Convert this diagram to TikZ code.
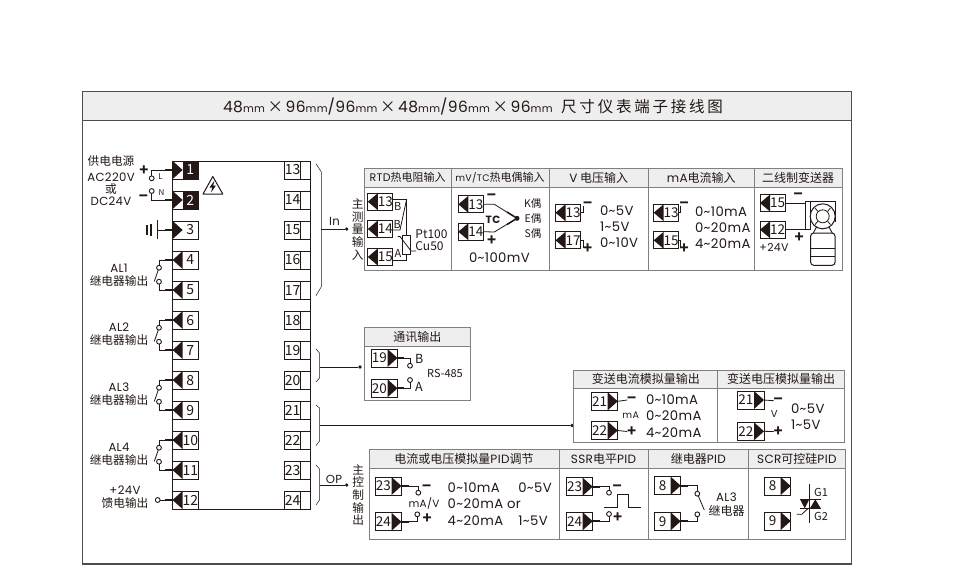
\documentclass[tikz,border=0pt]{standalone}
\usepackage{fontspec}
\setmainfont{Noto Sans CJK SC}
\newfontfamily\lat{Poppins}[LetterSpace=3]
\newfontfamily\wide{Noto Sans CJK SC}[LetterSpace=18]
\usetikzlibrary{positioning}
\definecolor{ink}{HTML}{231815}
\definecolor{frameline}{HTML}{4D4D4D}
\definecolor{panelline}{HTML}{808080}
\definecolor{headfill}{HTML}{EEEEEE}
\newcommand{\tl}{\textasciitilde}
\newcommand{\mmu}{{\fontsize{10.5}{12}\selectfont mm}}
\tikzset{
  every node/.style={text=ink, inner sep=0pt, outer sep=0pt, font=\fontsize{11.7}{12.6}\selectfont},
  wire/.style={ink, line width=.8pt},
  stub/.style={ink, line width=1.9pt},
  thinline/.style={ink, line width=.5pt},
  contact/.style={circle, draw=ink, line width=.9pt, fill=white, minimum size=4.8pt},
  dot/.style={circle, fill=ink, minimum size=3.6pt},
  plus/.style={font=\fontsize{15}{15}\bfseries\selectfont},
  head/.style={draw=panelline, line width=1pt, fill=headfill, minimum height=19pt, font=\fontsize{12}{12}\selectfont},
  pbody/.style={draw=panelline, line width=1pt, fill=white},
  vals/.style={anchor=west, font=\fontsize{13.2}{14}\lat\selectfont},
  port/.style={draw=ink, line width=.7pt, fill=white, minimum width=24pt, minimum height=17pt, font=\fontsize{13.5}{13.5}\selectfont},
  big/.style={minimum width=25.3pt, minimum height=18pt, font=\fontsize{14}{14}\selectfont},
  tipin/.style={execute at begin node={\hspace*{10pt}}, path picture={\fill[ink] ([xshift=10pt]path picture bounding box.north west) -- (path picture bounding box.west) -- ([xshift=10pt]path picture bounding box.south west) -- cycle;}},
  tipout/.style={execute at begin node={\hspace*{10pt}}, path picture={\fill[ink] (path picture bounding box.north west) -- ([xshift=10pt]path picture bounding box.west) -- (path picture bounding box.south west) -- cycle;}},
  tipend/.style={minimum width=26.4pt, minimum height=18pt, execute at end node={\hspace*{10pt}}, path picture={\fill[ink] ([xshift=-10pt]path picture bounding box.north east) -- (path picture bounding box.east) -- ([xshift=-10pt]path picture bounding box.south east) -- cycle;}},
  power/.style={tipout, text=white, path picture={\fill[ink] ([xshift=10pt]path picture bounding box.north west) rectangle (path picture bounding box.south east); \fill[ink] (path picture bounding box.north west) -- ([xshift=10pt]path picture bounding box.west) -- (path picture bounding box.south west) -- cycle;}},
  rport/.style={draw=ink, line width=.7pt, fill=white, minimum width=25.6pt, minimum height=18pt, font=\fontsize{14}{14}\selectfont, execute at end node={\hspace*{9.6pt}}, path picture={\draw[ink, line width=.7pt] ([xshift=-9.6pt]path picture bounding box.north east) -- ([xshift=-9.6pt]path picture bounding box.south east);}},
}
\begin{document}
\begin{tikzpicture}[x=1pt, y=-1pt]
\useasboundingbox (0,0) rectangle (960,582);
\node[draw=frameline, line width=1.2pt, fill=white, minimum width=769.4pt, minimum height=472pt] (frame) at (467,328) {};
\node[draw=frameline, line width=1.2pt, fill=headfill, minimum width=769.4pt, minimum height=28.3pt] (titlebar) at (467,106) {};
\node[font=\fontsize{15.5}{16}\selectfont] (title) at (473,107) {{\lat 48\mmu}\,×\,{\lat 96\mmu/96\mmu}\,×\,{\lat 48\mmu/96\mmu}\,×\,{\lat 96\mmu}\hspace{.55em}{\wide 尺寸仪表端子接线图}};
\node[draw=ink, line width=.9pt, fill=white, minimum width=137.6pt, minimum height=348pt] (unit) at (241.5,335) {};

\node[port, big, power] (t1) at (185.3,170) {1};
\node[port, big, power] (t2) at (185.3,200) {2};
\node[port, big, tipout] (t3) at (185.3,230) {3};
\node[port, big, tipin] (t4) at (185.3,260) {4};
\node[port, big, tipin] (t5) at (185.3,290) {5};
\node[port, big, tipin] (t6) at (185.3,320) {6};
\node[port, big, tipin] (t7) at (185.3,350) {7};
\node[port, big, tipin] (t8) at (185.3,380) {8};
\node[port, big, tipin] (t9) at (185.3,410) {9};
\node[port, big, tipin] (t10) at (185.3,440) {10};
\node[port, big, tipin] (t11) at (185.3,470) {11};
\node[port, big, tipin] (t12) at (185.3,500) {12};
\node[rport] (t13) at (297.5,170) {13};
\node[rport] (t14) at (297.5,200) {14};
\node[rport] (t15) at (297.5,230) {15};
\node[rport] (t16) at (297.5,260) {16};
\node[rport] (t17) at (297.5,290) {17};
\node[rport] (t18) at (297.5,320) {18};
\node[rport] (t19) at (297.5,350) {19};
\node[rport] (t20) at (297.5,380) {20};
\node[rport] (t21) at (297.5,410) {21};
\node[rport] (t22) at (297.5,440) {22};
\node[rport] (t23) at (297.5,470) {23};
\node[rport] (t24) at (297.5,500) {24};

\node (psu) at (111,161) {供电电源};
\node (acv) at (111,177) {\lat AC220V};
\node (psuor) at (111,189.5) {或};
\node (dcv) at (111,201.5) {\lat DC24V};
\node[plus] (psup) at (144,171) {+};
\node[plus] (psum) at (143.5,198.5) {−};
\node[contact] (cl) at (151.7,178.3) {};
\node[contact] (cn) at (151.7,191) {};
\node[font=\fontsize{8}{8}\selectfont] (ll) at (160.5,177) {L};
\node[font=\fontsize{8}{8}\selectfont] (ln) at (161.5,193) {N};
\draw[wire] (t1.west) -| (cl);
\draw[wire] (t2.west) -| (cn);
\draw[stub] (t1.west) -- ++(-8,0);
\draw[stub] (t2.west) -- ++(-8,0);
\draw[ink, line width=1.6pt] (146.7,225) -- (146.7,235) (151,223.5) -- (151,236);
\draw[ink, line width=1.6pt] (157.3,220) -- (157.3,239);
\coordinate (gnd) at (157.3,230);
\draw[wire] (t3.west) -- (gnd);
\draw[stub] (t3.west) -- ++(-8,0);
\draw[ink, line width=1pt, line join=round] (212.8,176.5) -- (222.8,194) -- (203,194) -- cycle;
\fill[ink] (214.5,180.5) -- (209.5,187.5) -- (212.3,187.5) -- (211,192.5) -- (216,185.5) -- (213.2,185.5) -- cycle;

\node[contact] (c4) at (159,267.7) {};
\node[contact] (c5) at (159,281.7) {};
\node[align=center] (al1) at (119,275.5) {\lat AL1\\继电器输出};
\draw[wire] (t4.west) -| (c4);
\draw[wire] (t5.west) -| (c5);
\draw[stub] (t4.west) -- ++(-8,0);
\draw[stub] (t5.west) -- ++(-8,0);
\draw[wire] (154.3,281.5) -- (c4);
\node[contact] (c6) at (159,327.7) {};
\node[contact] (c7) at (159,341.7) {};
\node[align=center] (al2) at (119,334) {\lat AL2\\继电器输出};
\draw[wire] (t6.west) -| (c6);
\draw[wire] (t7.west) -| (c7);
\draw[stub] (t6.west) -- ++(-8,0);
\draw[stub] (t7.west) -- ++(-8,0);
\draw[wire] (154.3,341.5) -- (c6);
\node[contact] (c8) at (159,387.7) {};
\node[contact] (c9) at (159,401.7) {};
\node[align=center] (al3) at (119,394) {\lat AL3\\继电器输出};
\draw[wire] (t8.west) -| (c8);
\draw[wire] (t9.west) -| (c9);
\draw[stub] (t8.west) -- ++(-8,0);
\draw[stub] (t9.west) -- ++(-8,0);
\draw[wire] (154.3,401.5) -- (c8);
\node[contact] (c10) at (159,447.7) {};
\node[contact] (c11) at (159,461.7) {};
\node[align=center] (al4) at (119,454) {\lat AL4\\继电器输出};
\draw[wire] (t10.west) -| (c10);
\draw[wire] (t11.west) -| (c11);
\draw[stub] (t10.west) -- ++(-8,0);
\draw[stub] (t11.west) -- ++(-8,0);
\draw[wire] (154.3,461.5) -- (c10);
\node[contact] (c12) at (157.7,500) {};
\node[align=center] (feed) at (125,497) {\lat +24V\\馈电输出};
\draw[wire] (t12.west) -- (c12);
\draw[stub] (t12.west) -- ++(-8,0);

\draw[thinline] (316,163.7) -- (321.3,172) -- (321.3,286.7) -- (316,295.7);
\draw[thinline] (316,349) -- (319.5,353) -- (319.5,378) -- (316,382);
\draw[thinline] (316,405) -- (319.5,408) -- (319.5,441) -- (316,445.6);
\draw[thinline] (316,465) -- (319.5,469) -- (319.5,500) -- (316,505);
\coordinate (brin) at (321.3,229);
\coordinate (brcom) at (319.5,367);
\coordinate (brtx) at (319.5,425.5);
\coordinate (brop) at (319.5,485);
\node[dot] (dotin) at (346.7,229) {};
\node[dot] (dotcom) at (360,367) {};
\node[dot] (dottx) at (572,425.5) {};
\node[dot] (dotop) at (346.7,485) {};
\draw[wire] (brin) -- (dotin);
\draw[wire] (brcom) -- (dotcom);
\draw[wire] (brtx) -- (dottx);
\draw[wire] (brop) -- (dotop);
\node (inlab) at (334.5,221.5) {\lat In};
\node (oplab) at (334,479) {\lat OP};
\node[align=center] (mainin) at (357.7,229.5) {主\\测\\量\\输\\入};
\node[align=center] (mainout) at (358.3,495) {主\\控\\制\\输\\出};

\node[head, minimum width=86.7pt, font=\fontsize{11}{12}\selectfont] (rtdh) at (407.7,177.8) {{\lat RTD}热电阻输入};
\node[pbody, minimum width=86.7pt, minimum height=83.4pt, below=0pt of rtdh] (rtdb) {};
\node[head, minimum width=98pt, font=\fontsize{11}{12}\selectfont] (tch) at (500,177.8) {{\fontsize{9.5}{12}\lat mV/TC}热电偶输入};
\node[pbody, minimum width=98pt, minimum height=83.4pt, below=0pt of tch] (tcb) {};
\node[head, minimum width=99.3pt] (vinh) at (598.7,177.8) {{\lat V} 电压输入};
\node[pbody, minimum width=99.3pt, minimum height=83.4pt, below=0pt of vinh] (vinb) {};
\node[head, minimum width=105.7pt] (mainh) at (701.2,177.8) {{\lat mA}电流输入};
\node[pbody, minimum width=105.7pt, minimum height=83.4pt, below=0pt of mainh] (mainb) {};
\node[head, minimum width=88.3pt] (twoh) at (798.2,177.8) {二线制变送器};
\node[pbody, minimum width=88.3pt, minimum height=83.4pt, below=0pt of twoh] (twob) {};

\node[port, tipin] (rtd13) at (380.3,201.7) {13};
\node[port, tipin] (rtd14) at (380.3,229) {14};
\node[port, tipin] (rtd15) at (380.3,257) {15};
\coordinate (rtdtop) at (406.7,199);
\coordinate (rtdmid) at (400,230);
\node[draw=ink, line width=.7pt, fill=white, minimum width=8pt, minimum height=19.3pt] (rtdres) at (406.7,244.7) {};
\coordinate (rtdbot) at (406.7,260);
\draw[wire] (rtd13.east |- rtdtop) -- (rtdtop) -- (rtdres.north);
\draw[wire] (rtdtop) -- (rtdmid) -- (rtd14.east |- rtdmid);
\draw[wire] (rtdres.south) -- (rtdbot) -- (rtd15.east |- rtdbot);
\draw[wire] (397.5,236.5) -- (400,236.5) -- (411,251) -- (416,251);
\node[font=\fontsize{11}{11}\selectfont] (rtdb1) at (397.7,206) {B};
\node[font=\fontsize{11}{11}\selectfont] (rtdb2) at (397.3,224) {B};
\node[font=\fontsize{11}{11}\selectfont] (rtda) at (398,253.5) {A};
\node[align=left, font=\fontsize{12}{11.5}\selectfont] (pt) at (431.5,240) {Pt100\\Cu50};

\node[port, tipin] (tc13) at (470.8,204.3) {13};
\node[port, tipin] (tc14) at (470.8,231.7) {14};
\node[dot, minimum size=5pt] (tcdot) at (517,218.3) {};
\coordinate (tca) at (494.3,204.3);
\coordinate (tcb1) at (494.3,232);
\coordinate (tcc) at (507,212);
\coordinate (tcd) at (507,224.5);
\draw[wire] (tc13.east) -- (tca) -- (tcdot);
\draw[wire] (tc14.east) -- (tcb1) -- (tcdot);
\draw[ink, line width=1.5pt] (tcc) -- (tcdot) -- (tcd);
\node[plus] (tcm) at (491.5,197.5) {−};
\node[plus] (tcp) at (491.7,241) {+};
\node[font=\fontsize{10.5}{11}\lat\bfseries\selectfont] (tclab) at (493,220) {TC};
\node[font=\fontsize{10.5}{11}\selectfont] (kou) at (532.7,204) {K偶};
\node[font=\fontsize{10.5}{11}\selectfont] (eou) at (533,218.5) {E偶};
\node[font=\fontsize{10.5}{11}\selectfont] (sou) at (533,234) {S偶};
\node[vals] (tcr) at (469,257.7) {0\tl100mV};

\node[port, tipin] (v13) at (568,212.7) {13};
\node[port, tipin] (v17) at (568,240.3) {17};
\node[plus] (vm) at (587.7,205.5) {−};
\node[plus] (vp) at (587.7,248.3) {+};
\coordinate (vma) at (583,206);
\coordinate (vpa) at (583,248);
\draw[wire] (v13.east) -| (vma);
\draw[wire] (v17.east) -| (vpa);
\node[vals] (v1) at (600,211) {0\tl5V};
\node[vals] (v2) at (600,226.7) {1\tl5V};
\node[vals] (v3) at (600,243) {0\tl10V};

\node[port, tipin] (a13) at (666.2,212.7) {13};
\node[port, tipin] (a15) at (666.2,240.3) {15};
\node[plus] (am) at (684.3,205.5) {−};
\node[plus] (ap) at (684.3,248.3) {+};
\coordinate (ama) at (680.5,206);
\coordinate (apa) at (680.5,248);
\draw[wire] (a13.east) -| (ama);
\draw[wire] (a15.east) -| (apa);
\node[vals] (a1) at (695,211.7) {0\tl10mA};
\node[vals] (a2) at (695,227.7) {0\tl20mA};
\node[vals] (a3) at (695,244) {4\tl20mA};

\node[port, tipin] (x15) at (772.5,203) {15};
\node[port, tipin] (x12) at (772.5,229.7) {12};
\node[plus] (xm) at (798.3,196.5) {−};
\node[plus] (xp) at (799.3,237.3) {+};
\node[font=\fontsize{11}{12}\lat\selectfont] (x24) at (774,247.3) {+24V};
\node[draw=ink, line width=.7pt, fill=white, minimum width=5pt, minimum height=28.4pt] (xbar) at (807.5,215.5) {};
\draw[wire] (x15.east) -- (x15.east -| xbar.west);
\draw[wire] (x12.east) -- (x12.east -| xbar.west);
\draw[ink, line width=.9pt] (810,201.3) -- (835,201.3) -- (835,222);
\draw[ink, line width=1pt, fill=white] (822.7,216.3) circle (12.5pt);
\draw[ink, line width=.8pt] (822.7,216.3) circle (6.5pt);
\draw[ink, line width=.8pt] (815,208) -- (817.8,211.4) (830.4,208) -- (827.6,211.4) (815,224.6) -- (817.8,221.2) (830.4,224.6) -- (827.6,221.2);
\draw[ink, line width=.9pt] (816.5,227) -- (813,233.5) (829,227) -- (832.5,233.5);
\draw[ink, line width=1pt, rounded corners=3pt, fill=white] (810.7,233) rectangle (835,265.3);
\draw[ink, line width=.8pt] (810.7,248) -- (835,248) (810.7,256) -- (835,256);

\node[head, minimum width=106pt] (comh) at (417.3,336.8) {通讯输出};
\node[pbody, minimum width=106pt, minimum height=54pt, below=0pt of comh] (comb) {};
\node[port, tipend] (c19) at (384.3,358) {19};
\node[port, tipend] (c20) at (384.3,388.3) {20};
\node[contact] (cb) at (410,365.7) {};
\node[contact] (ca) at (410,380) {};
\draw[wire] (c19.east) -| (cb);
\draw[wire] (c20.east) -| (ca);
\draw[stub] (c19.east) -- ++(6,0);
\draw[stub] (c20.east) -- ++(6,0);
\node[font=\fontsize{12.5}{12}\selectfont] (blab) at (419.3,359) {B};
\node[font=\fontsize{12.5}{12}\selectfont] (alab) at (419,386.7) {A};
\node[font=\fontsize{11}{11}\selectfont] (rs) at (445,373.3) {RS-485};

\node[head, minimum width=143.7pt, minimum height=18.3pt] (ioh) at (645.8,379.2) {变送电流模拟量输出};
\node[pbody, minimum width=143.7pt, minimum height=54.4pt, below=0pt of ioh] (iob) {};
\node[head, minimum width=126.6pt, minimum height=18.3pt] (voh) at (781,379.2) {变送电压模拟量输出};
\node[pbody, minimum width=126.6pt, minimum height=54.4pt, below=0pt of voh] (vob) {};
\node[port, tipend] (i21) at (604.5,401.3) {21};
\node[port, tipend] (i22) at (604.5,430.5) {22};
\node[plus] (im) at (631.7,400) {−};
\node[plus] (ip) at (631.7,431.5) {+};
\draw[wire] (i21.east) -- (im.west);
\draw[wire] (i22.east) -- (ip.west);
\node[font=\fontsize{9.5}{10}\lat\selectfont] (ima) at (630.7,415.5) {mA};
\node[vals] (i1) at (646,400) {0\tl10mA};
\node[vals] (i2) at (646,416) {0\tl20mA};
\node[vals] (i3) at (646,432.3) {4\tl20mA};
\node[port, tipend] (o21) at (750.8,400) {21};
\node[port, tipend] (o22) at (750.8,431.3) {22};
\node[plus] (om) at (778.3,400.7) {−};
\node[plus] (op) at (778.3,431.5) {+};
\draw[wire] (o21.east) -- (om.west);
\draw[wire] (o22.east) -- (op.west);
\node[font=\fontsize{10}{10}\lat\selectfont] (ovl) at (774.3,414) {V};
\node[vals] (o1) at (791,408.3) {0\tl5V};
\node[vals] (o2) at (791,424.3) {1\tl5V};

\node[head, minimum width=190pt, minimum height=18.3pt] (pidh) at (464,458.9) {电流或电压模拟量{\lat PID}调节};
\node[pbody, minimum width=190pt, minimum height=71.3pt, below=0pt of pidh] (pidb) {};
\node[head, minimum width=89pt, minimum height=18.3pt] (ssrh) at (603.5,458.9) {{\lat SSR}电平{\lat PID}};
\node[pbody, minimum width=89pt, minimum height=71.3pt, below=0pt of ssrh] (ssrb) {};
\node[head, minimum width=100.7pt, minimum height=18.3pt] (relh) at (698.35,458.9) {继电器{\lat PID}};
\node[pbody, minimum width=100.7pt, minimum height=71.3pt, below=0pt of relh] (relb) {};
\node[head, minimum width=96.3pt, minimum height=18.3pt] (scrh) at (796.85,458.9) {{\lat SCR}可控硅{\lat PID}};
\node[pbody, minimum width=96.3pt, minimum height=71.3pt, below=0pt of scrh] (scrb) {};

\node[port, tipend] (p23) at (388.3,486) {23};
\node[port, tipend] (p24) at (388.3,521.8) {24};
\node[contact] (cp23) at (418.3,492.7) {};
\node[contact] (cp24) at (417.3,514.3) {};
\draw[wire] (p23.east) -| (cp23);
\draw[wire] (p24.east) -| (cp24);
\draw[stub] (p23.east) -- ++(7,0);
\draw[stub] (p24.east) -- ++(7,0);
\node[plus] (pm) at (426.7,488) {−};
\node[plus] (pp) at (427.3,518.5) {+};
\node[font=\fontsize{10.5}{11}\lat\selectfont] (pmav) at (424,503) {mA/V};
\node[vals] (p1) at (447.7,487.7) {0\tl10mA};
\node[vals] (p2) at (447.7,504) {0\tl20mA or};
\node[vals] (p3) at (447.7,520.3) {4\tl20mA};
\node[vals] (p4) at (518.3,487.7) {0\tl5V};
\node[vals] (p5) at (518.3,520.3) {1\tl5V};

\node[port, tipend] (s23) at (579.5,486.7) {23};
\node[port, tipend] (s24) at (579.5,521.2) {24};
\node[contact] (cs23) at (609,492.7) {};
\node[contact] (cs24) at (609,514) {};
\draw[wire] (s23.east) -| (cs23);
\draw[wire] (s24.east) -| (cs24);
\draw[stub] (s23.east) -- ++(7,0);
\draw[stub] (s24.east) -- ++(7,0);
\node[plus] (sm) at (617.3,488) {−};
\node[plus] (sp) at (617.7,517.7) {+};
\draw[wire] (604.3,507.7) -- (617.3,507.7) -- (617.3,494.3) -- (628.3,494.3) -- (628.3,507.7) -- (641,507.7);

\node[port, tipend] (r8) at (667.5,485.7) {8};
\node[port, tipend] (r9) at (667.5,521.3) {9};
\node[contact] (cr8) at (697.3,493.7) {};
\node[contact] (cr9) at (697.3,514.3) {};
\draw[wire] (r8.east) -| (cr8);
\draw[wire] (r9.east) -| (cr9);
\draw[stub] (r8.east) -- ++(7,0);
\draw[stub] (r9.east) -- ++(7,0);
\draw[wire] (cr8) -- (704.3,510);
\node (ral) at (726.5,496.8) {\lat AL3};
\node[font=\fontsize{12}{12.6}\selectfont] (rre) at (726.5,510.8) {继电器};

\node[port, tipend] (g8) at (777.5,486) {8};
\node[port, tipend] (g9) at (777.5,521) {9};
\draw[wire] (809.3,484.3) -- (809.3,523.3);
\draw[wire] (800,499.3) -- (820.7,499.3) (800,508.3) -- (820.7,508.3);
\fill[ink] (800,499.3) -- (809.3,499.3) -- (804.7,508.3) -- cycle;
\fill[ink] (810,508.3) -- (820.7,508.3) -- (815.3,499.3) -- cycle;
\draw[wire] (796.7,514.3) -- (801.7,514.3) -- (808.3,508.3);
\node[font=\fontsize{11}{11}\selectfont] (g1) at (821,492.3) {G1};
\node[font=\fontsize{11}{11}\selectfont] (g2) at (821,516) {G2};
\end{tikzpicture}
\end{document}
